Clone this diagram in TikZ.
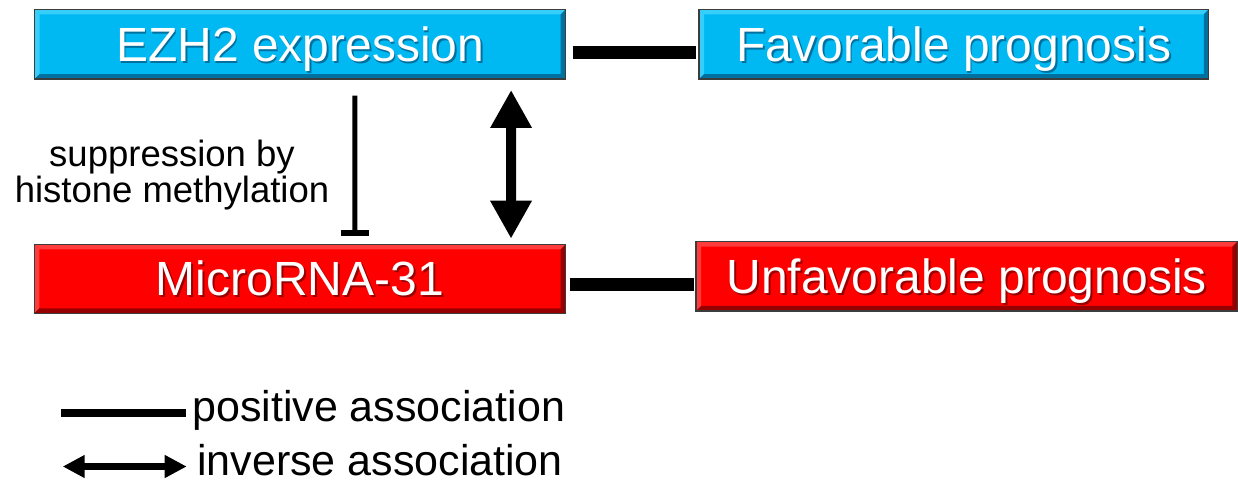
\documentclass[tikz,border=0pt]{standalone}
\usepackage{fontspec}
\setmainfont{Liberation Sans}
\usetikzlibrary{arrows.meta}
\definecolor{ezcyan}{RGB}{0,185,242}
\definecolor{ezcyanL}{RGB}{55,206,250}
\definecolor{ezcyanD}{RGB}{0,112,158}
\definecolor{ezred}{RGB}{255,0,0}
\definecolor{ezredL}{RGB}{255,60,60}
\definecolor{ezredD}{RGB}{150,0,0}
\definecolor{edgegray}{RGB}{60,60,60}
\newcommand\shtext[2]{\makebox[0pt][l]{\hspace{1.8pt}\raisebox{-1.8pt}{\color{#1}#2}}#2}
\tikzset{
  bevel/.style 2 args={path picture={
    \coordinate (pNW) at (path picture bounding box.north west);
    \coordinate (pNE) at (path picture bounding box.north east);
    \coordinate (pSW) at (path picture bounding box.south west);
    \coordinate (pSE) at (path picture bounding box.south east);
    \fill[#1] (pNW) -- (pNE) -- ([shift={(-5pt,-5pt)}]pNE) -- ([shift={(5pt,-5pt)}]pNW) -- cycle;
    \fill[#1] (pNW) -- ([shift={(5pt,-5pt)}]pNW) -- ([shift={(5pt,5pt)}]pSW) -- (pSW) -- cycle;
    \fill[#2] (pSW) -- (pSE) -- ([shift={(-5pt,5pt)}]pSE) -- ([shift={(5pt,5pt)}]pSW) -- cycle;
    \fill[#2] (pNE) -- (pSE) -- ([shift={(-5pt,5pt)}]pSE) -- ([shift={(-5pt,-5pt)}]pNE) -- cycle;
  }},
  boxbase/.style={draw=edgegray, line width=1.2pt, inner sep=0pt, text=white,
    font=\fontsize{48}{52}\selectfont, text height=34pt, text depth=0pt},
  cyanbox/.style={boxbase, fill=ezcyan, bevel={ezcyanL}{ezcyanD}},
  redbox/.style={boxbase, fill=ezred, bevel={ezredL}{ezredD}},
  assoc/.style={line width=13pt},
  inhib/.style={line width=5pt},
  inhibbar/.style={line width=6pt},
  inverse/.style={line width=10pt, {Triangle[length=38pt,width=39pt]}-{Triangle[length=38pt,width=39pt]}},
  legline/.style={line width=8pt},
  leginverse/.style={line width=7pt, {Triangle[length=22pt,width=21.6pt]}-{Triangle[length=22pt,width=21.6pt]}},
  lbl/.style={inner sep=0pt, font=\fontsize{36.5}{36}\selectfont, align=center},
  legtxt/.style={inner sep=0pt, font=\fontsize{43}{48}\selectfont, text depth=0pt},
}
\begin{document}
\begin{tikzpicture}[x=1pt,y=-1pt]
\useasboundingbox (0,0) rectangle (1238,482);
\node[cyanbox, minimum width=531.2pt, minimum height=69.7pt] (ezh) at (300.1,44.2) {\shtext{ezcyanD}{EZH2 expression}};
\node[cyanbox, minimum width=509.7pt, minimum height=69.7pt] (fav) at (953.9,44.2) {\shtext{ezcyanD}{Favorable prognosis}};
\node[redbox, minimum width=531.4pt, minimum height=69pt] (mir) at (300,278.8) {\shtext{ezredD}{MicroRNA-31}};
\node[redbox, minimum width=541.3pt, minimum height=69.3pt] (unf) at (966.7,276.3) {\shtext{ezredD}{Unfavorable prognosis}};
\draw[assoc] ([shift={(6.3,7.8)}]ezh.east) -- ([shift={(-2,7.8)}]fav.west);
\draw[assoc] ([shift={(3.6,5.2)}]mir.east) -- ([shift={(-1.7,7.7)}]unf.west);
\coordinate (inhA) at ([shift={(54.8,16)}]ezh.south);
\coordinate (inhB) at ([shift={(54.8,-10.6)}]mir.north);
\draw[inhib] (inhA) -- (inhB);
\draw[inhibbar] ([xshift=-14]inhB) -- ([xshift=14]inhB);
\draw[inverse] ([shift={(211,10.3)}]ezh.south) -- ([shift={(211,-5)}]mir.north);
\node[lbl] (sup) at (172,175) {suppression by\\histone methylation};
\coordinate (p1) at (61,412.5);
\coordinate (p2) at (185.7,412.5);
\draw[legline] (p1) -- (p2);
\node[legtxt, anchor=base west] (ptxt) at (192,421) {positive association};
\coordinate (i1) at (62.7,466.5);
\coordinate (i2) at (186.7,466.5);
\draw[leginverse] (i1) -- (i2);
\node[legtxt, anchor=base west] (itxt) at (197,475) {inverse association};
\end{tikzpicture}
\end{document}
